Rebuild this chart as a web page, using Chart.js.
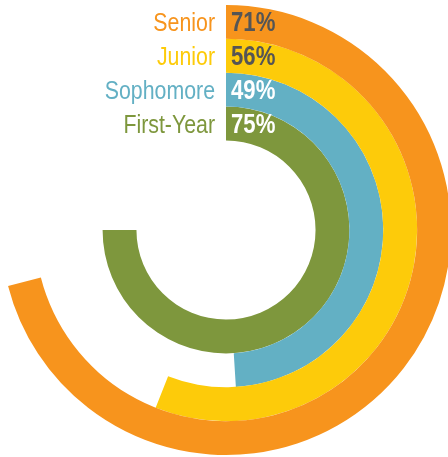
<!DOCTYPE html>
<html>
<head>
<meta charset="utf-8">
<style>
  html, body { margin: 0; padding: 0; overflow: hidden; background: #fff; }
  #wrap { position: absolute; left: 0; top: 0; width: 452px; height: 460px; }
</style>
</head>
<body>
<div id="wrap">
  <canvas id="myChart"></canvas>
</div>
<script src="https://cdn.jsdelivr.net/npm/chart.js"></script>
<script>
// one ring per class year, outermost first
const years = ['Senior', 'Junior', 'Sophomore', 'First-Year'];
const percents = [71, 56, 49, 75];
const ringColors = ['#f7941d', '#fdcb0a', '#63b0c4', '#7e973d'];
const pctColors = ['#555555', '#555555', '#ffffff', '#ffffff'];

const datasets = years.map(function (y, i) {
    return {
        label: y,
        data: [percents[i], 100 - percents[i]],
        backgroundColor: [ringColors[i], 'rgba(0,0,0,0)'],
        borderWidth: 0,
        hoverOffset: 0,
        offset: 0
    };
});

// condensed look: squeeze the text horizontally
const SQUEEZE = 0.82;
function narrowText(ctx, text, x, y, align) {
    ctx.save();
    ctx.translate(x, y);
    ctx.scale(SQUEEZE, 1);
    ctx.textAlign = align;
    ctx.fillText(text, 0, 0);
    ctx.restore();
}

// year name left of the start line, value right of it
const ringLabels = {
    id: 'ringLabels',
    afterDatasetsDraw: function (chart) {
        const ctx = chart.ctx;
        ctx.save();
        ctx.textBaseline = 'alphabetic';
        chart.data.datasets.forEach(function (ds, i) {
            const arc = chart.getDatasetMeta(i).data[0];
            const baseY = arc.y - (arc.innerRadius + arc.outerRadius) / 2 + 9.5;
            ctx.font = '26px "Liberation Sans", Arial, sans-serif';
            ctx.fillStyle = ringColors[i];
            narrowText(ctx, years[i], arc.x - 11, baseY, 'right');
            ctx.font = 'bold 27px "Liberation Sans", Arial, sans-serif';
            ctx.fillStyle = pctColors[i];
            narrowText(ctx, percents[i] + '%', arc.x + 5, baseY, 'left');
        });
        ctx.restore();
    }
};

new Chart(document.getElementById('myChart'), {
    type: 'doughnut',
    data: {
        labels: ['value', 'rest'],
        datasets: datasets
    },
    options: {
        responsive: true,
        maintainAspectRatio: false,
        animation: false,
        events: [],
        cutout: '39.8%',
        layout: { padding: { left: 1, right: 1, top: 5, bottom: 5 } },
        plugins: {
            legend: { display: false },
            tooltip: { enabled: false }
        }
    },
    plugins: [ringLabels]
});
</script>
</body>
</html>
